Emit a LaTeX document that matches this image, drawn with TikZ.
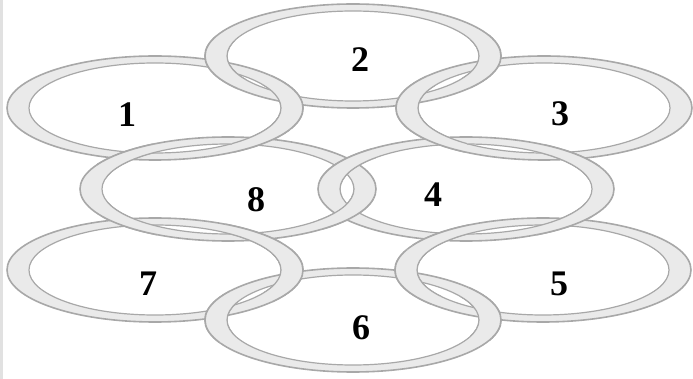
\documentclass[tikz,border=0pt]{standalone}
\usepackage{fontspec}
\setmainfont{Liberation Serif}
\usepackage{xcolor}
\usepackage{tikz}
\definecolor{ringfill}{RGB}{234, 234, 234}
\definecolor{ringedge}{RGB}{168, 168, 168}
\definecolor{framegray}{RGB}{225, 225, 225}

% one interlocking ring, drawn round a named centre
\newcommand{\ringband}[1]{%
  \fill[ringfill, even odd rule]
    (#1) ellipse [x radius=148pt, y radius=52pt]
    (#1) ellipse [x radius=126pt, y radius=45pt];
  \draw[outeredge] (#1) ellipse [x radius=148pt, y radius=52pt];
  \draw[inneredge] (#1) ellipse [x radius=126pt, y radius=45pt];
}

\begin{document}
\begin{tikzpicture}[
    x=1pt, y=-1pt,
    outeredge/.style={draw=ringedge, line width=1.6pt},
    inneredge/.style={draw=ringedge, line width=1.2pt},
    numlabel/.style={font=\fontsize{36}{38}\selectfont\bfseries, text=black, inner sep=0pt}
]
  \useasboundingbox (0,0) rectangle (693,379);
  \draw[framegray, line width=3pt] (1.5,0) -- (1.5,379);

  % Ring centres
  \coordinate (ring1) at (155,108);
  \coordinate (ring2) at (353,56);
  \coordinate (ring3) at (544,108);
  \coordinate (ring8) at (228,189);
  \coordinate (ring4) at (466,189);
  \coordinate (ring7) at (155,270);
  \coordinate (ring6) at (353,320);
  \coordinate (ring5) at (543,270);

  % Rings
  \foreach \r in {1,2,3,8,4,7,6,5} {
    \ringband{ring\r}
  }

  % Over-crossings
  \foreach \r/\px/\py in {2/219/66, 1/289/99, 2/488/64, 3/409/100,
                          8/125/155, 1/262/141, 4/572/155, 3/437/141,
                          4/347/165, 8/347/213, 8/130/223, 7/253/236,
                          4/564/223, 5/441/236, 7/290/278, 6/211/314,
                          5/417/278, 6/487/311} {
    \begin{scope}
      \clip (\px,\py) circle [radius=30pt];
      \ringband{ring\r}
    \end{scope}
  }

  % Numbers
  \node[numlabel] (lab1) at (127,115) {1};
  \node[numlabel] (lab2) at (360,60)  {2};
  \node[numlabel] (lab3) at (560,114) {3};
  \node[numlabel] (lab8) at (256,200) {8};
  \node[numlabel] (lab4) at (433,195) {4};
  \node[numlabel] (lab7) at (148,284) {7};
  \node[numlabel] (lab5) at (559,284) {5};
  \node[numlabel] (lab6) at (361,328) {6};
\end{tikzpicture}
\end{document}
